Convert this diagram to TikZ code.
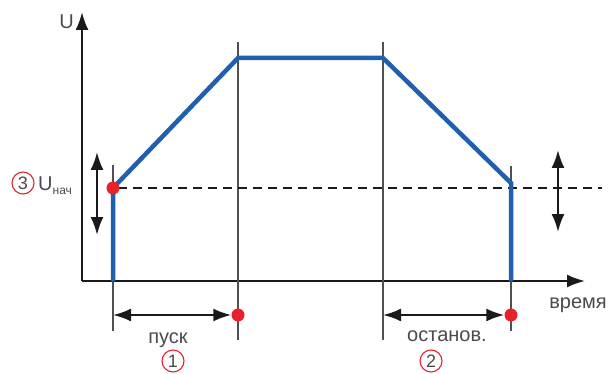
\documentclass[tikz,border=0pt]{standalone}
\usepackage{fontspec}
\setmainfont{Liberation Sans}
\usepackage{tikz}
\usetikzlibrary{arrows.meta,positioning}
\definecolor{ink}{HTML}{1A1A1A}
\definecolor{guideline}{HTML}{505050}
\definecolor{volt}{HTML}{1F5FAD}
\definecolor{mark}{HTML}{E8212B}
\definecolor{txt}{HTML}{4A4A4A}

\begin{document}
\begin{tikzpicture}[x=1pt,y=-1pt,>={Latex[length=18pt,width=13pt]},
  axis/.style={draw=ink,line width=2.2pt},
  guide/.style={draw=guideline,line width=1.4pt},
  span/.style={draw=ink,line width=2.2pt,<->},
  curve/.style={draw=volt,line width=4.5pt,line join=miter},
  dot/.style={circle,fill=mark,inner sep=0pt,minimum size=13pt},
  num/.style={circle,draw=mark,line width=1.1pt,text=txt,inner sep=0pt,minimum size=22pt,font=\fontsize{18}{18}\selectfont},
  lbl/.style={text=txt,inner sep=0pt,font=\fontsize{20}{20}\selectfont}]
  \useasboundingbox (0,0) rectangle (610,374);
  % axes
  \coordinate (orig) at (82,281);
  \coordinate (utop) at (82,12);
  \coordinate (tend) at (585,281);
  \draw[axis,->] (orig)--(utop);
  \draw[axis,->] (orig)--(tend);
  \node[lbl,anchor=east] (ulbl) at (74,22) {U};
  \node[lbl,anchor=base] (tlbl) at (578,308) {время};
  % thin guides
  \coordinate (g1a) at (113,165); \coordinate (g1b) at (113,331);
  \coordinate (g2a) at (238,42);  \coordinate (g2b) at (238,340);
  \coordinate (g3a) at (383,42);  \coordinate (g3b) at (383,340);
  \coordinate (g4a) at (511,166); \coordinate (g4b) at (511,331);
  \draw[guide] (g1a)--(g1b); \draw[guide] (g2a)--(g2b);
  \draw[guide] (g3a)--(g3b); \draw[guide] (g4a)--(g4b);
  % start level
  \coordinate (dend) at (602,188);
  \draw[ink,line width=2pt,dash pattern=on 9pt off 6pt] (118,188)--(dend);
  % voltage curve
  \coordinate (v0) at (113,281); \coordinate (v1) at (113,188);
  \coordinate (v2) at (238,58);  \coordinate (v3) at (383,58);
  \coordinate (v4) at (511,183); \coordinate (v5) at (511,281);
  \draw[curve] (v0)--(v1)--(v2)--(v3)--(v4)--(v5);
  \node[dot] (ustart) at (v1) {};
  % level arrows
  \coordinate (la) at (97,152); \coordinate (lb) at (97,235);
  \coordinate (ra) at (558,150); \coordinate (rb) at (558,232);
  \draw[span] (la)--(lb); \draw[span] (ra)--(rb);
  % start and stop spans
  \coordinate (s1) at (113,315); \node[dot] (e1) at (238,315) {};
  \coordinate (s2) at (383,315); \node[dot] (e2) at (511,315) {};
  \draw[span] (s1)--(e1.west); \draw[span] (s2)--(e2.west);
  \node[lbl,anchor=base] (pusk) at (168,343) {пуск};
  \node[lbl,anchor=base] (stop) at (447,341) {останов.};
  \node[num] (n1) at (173,361) {1};
  \node[num] (n2) at (431,361) {2};
  % start voltage label
  \node[num] (n3) at (23,183) {3};
  \node[lbl,anchor=base west] (unach) at (38,190) {U\raisebox{-5pt}{\fontsize{12}{12}\selectfont нач}};
\end{tikzpicture}
\end{document}
